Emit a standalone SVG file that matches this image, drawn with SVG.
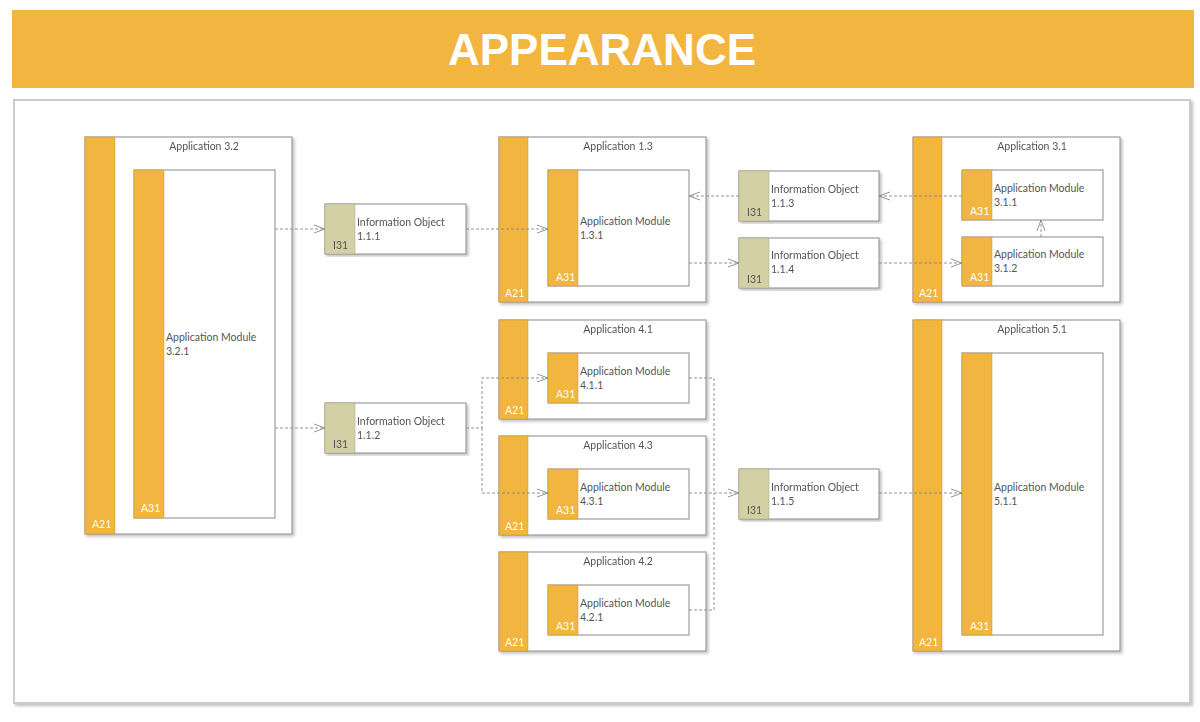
<svg xmlns="http://www.w3.org/2000/svg" width="1200" height="722" viewBox="0 0 1200 722">
<style>
.box{fill:#fff;stroke:#8a8a8a;stroke-width:1}
.bar{fill:#F2B53F;stroke:#c99a35;stroke-width:0.5}
.ibar{fill:#D4D0A6;stroke:#a8a480;stroke-width:0.5}
.t{font-family:Lato,"Open Sans",sans-serif;font-size:10.5px;fill:#555}
.tw{font-family:Lato,"Open Sans",sans-serif;font-size:10.5px;fill:#fff}
.tc{text-anchor:middle}
.c{fill:none;stroke:#888;stroke-width:0.9;stroke-dasharray:3,2}
</style>
<defs>
<marker id="a" markerWidth="12" markerHeight="10" refX="11" refY="5" orient="auto" markerUnits="userSpaceOnUse">
<path d="M0,1 L11,5 L0,9" fill="none" stroke="#888" stroke-width="0.9"/>
</marker>
<filter id="sh" x="-5%" y="-5%" width="110%" height="110%"><feDropShadow dx="2" dy="2" stdDeviation="1.5" flood-color="#000" flood-opacity="0.25"/></filter>
</defs>
<rect width="1200" height="722" fill="#fff"/>
<rect x="12" y="10" width="1182" height="78" fill="#F2B53F"/>
<text x="602" y="65" text-anchor="middle" font-family="Liberation Sans,Arial,sans-serif" font-weight="bold" font-size="44" fill="#fff">APPEARANCE</text>
<rect x="14" y="100" width="1176" height="603" fill="#fff" stroke="#ccc" stroke-width="2" filter="url(#sh)"/>

<g id="app32" filter="url(#sh)"><rect class="box" x="85" y="137" width="207" height="397"/><rect class="bar" x="85" y="137" width="30" height="397"/><text class="t tc" x="204" y="150">Application 3.2</text><text class="tw" x="92" y="528">A21</text></g>
<g id="mod321"><rect class="box" x="134" y="170" width="141" height="348"/><rect class="bar" x="134" y="170" width="30" height="348"/><text class="t" x="166" y="341">Application Module</text><text class="t" x="166" y="355">3.2.1</text><text class="tw" x="141" y="512">A31</text></g>

<g id="app13" filter="url(#sh)"><rect class="box" x="499" y="137" width="207" height="165"/><rect class="bar" x="499" y="137" width="29" height="165"/><text class="t tc" x="618" y="150">Application 1.3</text><text class="tw" x="505" y="297">A21</text></g>
<g id="mod131"><rect class="box" x="548" y="170" width="141" height="116"/><rect class="bar" x="548" y="170" width="30" height="116"/><text class="t" x="580" y="225">Application Module</text><text class="t" x="580" y="239">1.3.1</text><text class="tw" x="556" y="281">A31</text></g>

<g id="app31" filter="url(#sh)"><rect class="box" x="913" y="137" width="207" height="165"/><rect class="bar" x="913" y="137" width="29" height="165"/><text class="t tc" x="1032" y="150">Application 3.1</text><text class="tw" x="919" y="297">A21</text></g>
<g id="mod311"><rect class="box" x="962" y="170" width="141" height="50"/><rect class="bar" x="962" y="170" width="30" height="50"/><text class="t" x="994" y="192">Application Module</text><text class="t" x="994" y="206">3.1.1</text><text class="tw" x="970" y="215">A31</text></g>
<g id="mod312"><rect class="box" x="962" y="237" width="141" height="49"/><rect class="bar" x="962" y="237" width="30" height="49"/><text class="t" x="994" y="258">Application Module</text><text class="t" x="994" y="272">3.1.2</text><text class="tw" x="970" y="281">A31</text></g>

<g id="app41" filter="url(#sh)"><rect class="box" x="499" y="320" width="207" height="99"/><rect class="bar" x="499" y="320" width="29" height="99"/><text class="t tc" x="618" y="333">Application 4.1</text><text class="tw" x="505" y="414">A21</text></g>
<g id="mod411"><rect class="box" x="548" y="353" width="141" height="50"/><rect class="bar" x="548" y="353" width="30" height="50"/><text class="t" x="580" y="375">Application Module</text><text class="t" x="580" y="389">4.1.1</text><text class="tw" x="556" y="398">A31</text></g>

<g id="app43" filter="url(#sh)"><rect class="box" x="499" y="436" width="207" height="99"/><rect class="bar" x="499" y="436" width="29" height="99"/><text class="t tc" x="618" y="449">Application 4.3</text><text class="tw" x="505" y="530">A21</text></g>
<g id="mod431"><rect class="box" x="548" y="469" width="141" height="50"/><rect class="bar" x="548" y="469" width="30" height="50"/><text class="t" x="580" y="491">Application Module</text><text class="t" x="580" y="505">4.3.1</text><text class="tw" x="556" y="514">A31</text></g>

<g id="app42" filter="url(#sh)"><rect class="box" x="499" y="552" width="207" height="99"/><rect class="bar" x="499" y="552" width="29" height="99"/><text class="t tc" x="618" y="565">Application 4.2</text><text class="tw" x="505" y="646">A21</text></g>
<g id="mod421"><rect class="box" x="548" y="585" width="141" height="50"/><rect class="bar" x="548" y="585" width="30" height="50"/><text class="t" x="580" y="607">Application Module</text><text class="t" x="580" y="621">4.2.1</text><text class="tw" x="556" y="630">A31</text></g>

<g id="app51" filter="url(#sh)"><rect class="box" x="913" y="320" width="207" height="331"/><rect class="bar" x="913" y="320" width="29" height="331"/><text class="t tc" x="1032" y="333">Application 5.1</text><text class="tw" x="919" y="646">A21</text></g>
<g id="mod511"><rect class="box" x="962" y="353" width="141" height="282"/><rect class="bar" x="962" y="353" width="30" height="282"/><text class="t" x="994" y="491">Application Module</text><text class="t" x="994" y="505">5.1.1</text><text class="tw" x="970" y="630">A31</text></g>

<g id="io111" filter="url(#sh)"><rect class="box" x="325" y="204" width="141" height="50"/><rect class="ibar" x="325" y="204" width="30" height="50"/><text class="t" x="357" y="226">Information Object</text><text class="t" x="357" y="240">1.1.1</text><text class="t" x="333" y="249">I31</text></g>
<g id="io112" filter="url(#sh)"><rect class="box" x="325" y="403" width="141" height="50"/><rect class="ibar" x="325" y="403" width="30" height="50"/><text class="t" x="357" y="425">Information Object</text><text class="t" x="357" y="439">1.1.2</text><text class="t" x="333" y="448">I31</text></g>
<g id="io113" filter="url(#sh)"><rect class="box" x="739" y="171" width="140" height="50"/><rect class="ibar" x="739" y="171" width="30" height="50"/><text class="t" x="771" y="193">Information Object</text><text class="t" x="771" y="207">1.1.3</text><text class="t" x="747" y="216">I31</text></g>
<g id="io114" filter="url(#sh)"><rect class="box" x="739" y="238" width="140" height="50"/><rect class="ibar" x="739" y="238" width="30" height="50"/><text class="t" x="771" y="259">Information Object</text><text class="t" x="771" y="273">1.1.4</text><text class="t" x="747" y="283">I31</text></g>
<g id="io115" filter="url(#sh)"><rect class="box" x="739" y="469" width="140" height="50"/><rect class="ibar" x="739" y="469" width="30" height="50"/><text class="t" x="771" y="491">Information Object</text><text class="t" x="771" y="505">1.1.5</text><text class="t" x="747" y="514">I31</text></g>

<g id="connectors">
<path class="c" d="M275,229 H325" marker-end="url(#a)"/>
<path class="c" d="M466,229 H548" marker-end="url(#a)"/>
<path class="c" d="M689,263 H739" marker-end="url(#a)"/>
<path class="c" d="M962,196 H879" marker-end="url(#a)"/>
<path class="c" d="M739,196 H689" marker-end="url(#a)"/>
<path class="c" d="M879,263 H962" marker-end="url(#a)"/>
<path class="c" d="M1041,237 V220" marker-end="url(#a)"/>
<path class="c" d="M275,428 H325" marker-end="url(#a)"/>
<path class="c" d="M466,428 H482 V378 H548" marker-end="url(#a)"/>
<path class="c" d="M482,428 V493 H548" marker-end="url(#a)"/>
<path class="c" d="M689,378 H714 V493"/>
<path class="c" d="M689,610 H714 V493"/>
<path class="c" d="M689,493 H739" marker-end="url(#a)"/>
<path class="c" d="M879,493 H962" marker-end="url(#a)"/>
</g>
</svg>
